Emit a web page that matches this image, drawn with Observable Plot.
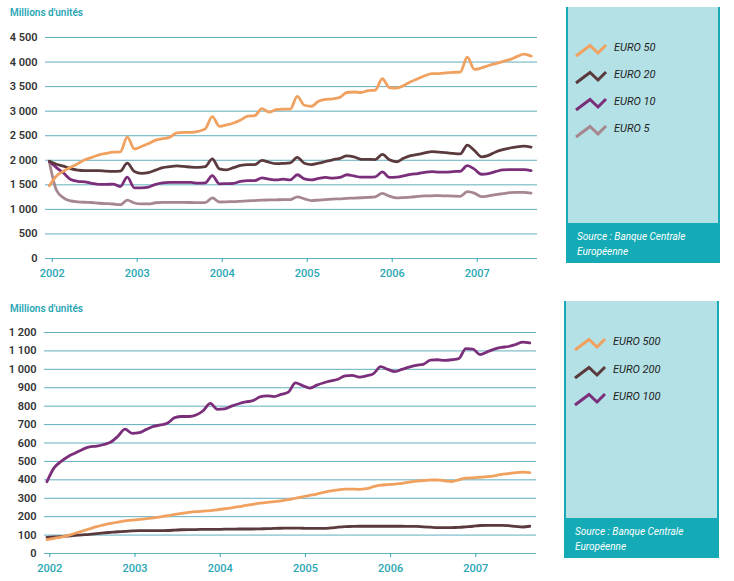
<!DOCTYPE html>
<html>
<head>
<meta charset="utf-8">
<script src="https://cdn.jsdelivr.net/npm/d3@7"></script>
<script src="https://cdn.jsdelivr.net/npm/@observablehq/plot@0.6"></script>
<style>
  html, body { margin: 0; padding: 0; background: #ffffff; }
  #page { position: relative; width: 734px; height: 581px; overflow: hidden; font-family: Roboto, "Open Sans", sans-serif; }
  .chart { position: absolute; left: 0; }
  .unit { position: absolute; font-size: 10px; font-weight: 600; color: #2aa6b4; line-height: 12px; white-space: nowrap; }
  .legend { position: absolute; box-sizing: border-box; background: #b4e1e6; border-left: 2px solid #17a9b5; border-right: 2px solid #17a9b5; }
  .legend .item { position: absolute; font-style: italic; font-size: 11px; color: #1e1e1e; line-height: 14px; white-space: nowrap; }
  .legend svg.icon { position: absolute; overflow: visible; }
  .legend .foot { position: absolute; left: -2px; right: -2px; bottom: 0; height: 40px; background: #14abb7; color: #ffffff; font-style: italic; font-size: 10px; line-height: 15.5px; padding: 5.5px 0 0 11px; box-sizing: border-box; }
</style>
</head>
<body>
<div id="page"></div>
<script>
// ---------- data ----------
const years = [2002, 2003, 2004, 2005, 2006, 2007];
const yTicksTop = [0, 500, 1000, 1500, 2000, 2500, 3000, 3500, 4000, 4500];
const yTicksBottom = [0, 100, 200, 300, 400, 500, 600, 700, 800, 900, 1000, 1100, 1200];
const unitLabel = "Millions d'unités";
const sourceLines = ["Source : Banque Centrale", "Européenne"];

// monthly values, January 2002 to September 2007
const euro50 = [
  1480,1680,1780,1860,1930,2010,2060,2110,2140,2165,2170,2470,
  2230,2280,2340,2410,2440,2470,2560,2570,2570,2590,2640,2890,
  2690,2720,2760,2820,2900,2910,3050,2980,3030,3040,3040,3300,
  3120,3100,3200,3240,3250,3280,3380,3390,3380,3420,3430,3660,
  3480,3470,3520,3600,3660,3720,3765,3765,3780,3790,3795,4100,
  3850,3880,3930,3970,4010,4050,4110,4160,4120];
const euro20 = [
  1980,1920,1880,1830,1800,1790,1790,1790,1780,1775,1780,1940,
  1770,1735,1750,1800,1850,1870,1885,1875,1860,1855,1870,2030,
  1825,1805,1850,1895,1913,1910,2000,1960,1930,1935,1945,2060,
  1940,1913,1940,1975,2010,2040,2090,2070,2020,2018,2015,2120,
  2010,1970,2040,2095,2120,2150,2178,2165,2155,2140,2130,2310,
  2200,2070,2100,2170,2215,2250,2275,2287,2270];
const euro10 = [
  1980,1850,1740,1610,1572,1560,1530,1508,1510,1515,1465,1655,
  1440,1440,1455,1510,1540,1550,1552,1552,1548,1535,1540,1688,
  1520,1525,1531,1570,1586,1586,1640,1615,1600,1615,1600,1705,
  1620,1600,1630,1650,1635,1650,1705,1680,1655,1655,1660,1765,
  1650,1655,1680,1715,1730,1755,1770,1760,1760,1770,1776,1890,
  1820,1715,1730,1770,1805,1810,1811,1811,1790];
const euro5 = [
  1960,1390,1235,1172,1155,1145,1140,1125,1118,1110,1095,1190,
  1130,1112,1112,1135,1143,1143,1143,1142,1140,1138,1137,1233,
  1150,1155,1158,1165,1172,1180,1188,1192,1195,1198,1200,1255,
  1215,1180,1190,1200,1210,1215,1225,1230,1237,1245,1255,1325,
  1270,1233,1240,1250,1265,1274,1277,1280,1275,1270,1266,1360,
  1330,1260,1275,1300,1320,1340,1348,1345,1330];

const euro500 = [
  75,82,89,98,110,122,134,146,156,164,171,177,
  181,185,189,193,199,205,212,218,223,227,230,233,
  237,243,248,254,261,267,273,278,282,286,292,300,
  307,315,323,332,340,346,350,350,348,352,363,371,
  374,377,381,388,393,396,399,399,395,391,400,409,
  411,414,417,422,430,434,439,442,439];
const euro200 = [
  88,90,92,95,98,101,104,108,112,115,118,120,
  123,124,124,124,124,125,127,129,130,130,131,131,
  131,132,132,133,133,133,134,135,136,137,138,138,
  137,136,136,136,139,143,146,147,148,148,148,148,
  148,148,148,147,147,145,143,141,140,141,142,145,
  148,152,153,153,153,151,147,144,148];
const euro100 = [
  390,465,500,527,546,565,579,583,592,605,637,675,
  652,656,674,690,698,708,738,744,744,752,775,815,
  783,785,800,813,823,830,850,856,852,864,876,926,
  912,898,914,927,937,946,965,967,958,965,977,1015,
  1000,988,1000,1012,1022,1027,1050,1052,1049,1052,1058,1112,
  1110,1080,1095,1110,1119,1124,1135,1148,1143];

const namesTop = ["EURO 50", "EURO 20", "EURO 10", "EURO 5"];
const seriesTop = [euro50, euro20, euro10, euro5];
const colorsTop = ["#f0a15f", "#5b3a3d", "#7b2e7a", "#a6878f"];

const namesBottom = ["EURO 500", "EURO 200", "EURO 100"];
const seriesBottom = [euro500, euro200, euro100];
const colorsBottom = ["#f0a15f", "#5b3a3d", "#7b2e7a"];

// ---------- helpers ----------
const teal = "#2aa6b4";
const gridColor = "#62afbe";
const fmt = d => d3.format(",")(d).replace(/,/g, " ");
// month index -> decimal year (monthly reading, plotted slightly before month start)
const tOf = i => 2002 + (i - 0.4) / 12;

function rowsFor(names, series) {
  const rows = [];
  // draw order reversed so the first legend entry is drawn on top
  for (let k = names.length - 1; k >= 0; k--) {
    series[k].forEach((v, i) => rows.push({s: names[k], t: tOf(i), v}));
  }
  return rows;
}

function makeChart({names, series, colors, yTicks, xDomain, marginLeft, marginRight, marginTop, marginBottom, curve}) {
  return Plot.plot({
    width: 545,
    height: 285,
    marginLeft, marginRight, marginTop, marginBottom,
    style: {fontFamily: "Roboto, 'Open Sans', sans-serif", background: "transparent", overflow: "visible"},
    x: {type: "linear", domain: xDomain},
    y: {domain: [0, yTicks[yTicks.length - 1]]},
    color: {domain: names, range: colors},
    marks: [
      Plot.gridY(yTicks, {stroke: gridColor, strokeOpacity: 1, strokeWidth: 1}),
      Plot.axisY(yTicks, {tickSize: 0, tickPadding: 8, tickFormat: fmt, fontSize: 11, fontWeight: 600, fill: "#333333", label: null}),
      Plot.axisX(years, {tickSize: 4, tickPadding: 7, tickFormat: d => String(d), color: teal, fontSize: 11, fontWeight: 500, label: null}),
      Plot.line(rowsFor(names, series), {x: "t", y: "v", z: "s", stroke: "s", strokeWidth: 2.8, curve, strokeLinejoin: "round", strokeLinecap: "round"})
    ]
  });
}

function makeLegend({left, top, width, height, names, colors, itemLeft, iconLeft, firstY, step}) {
  const box = document.createElement("div");
  box.className = "legend";
  Object.assign(box.style, {left: left + "px", top: top + "px", width: width + "px", height: height + "px"});
  names.forEach((name, k) => {
    const cy = firstY + step * k;
    const svg = d3.create("svg").attr("class", "icon").attr("width", 32).attr("height", 14)
      .style("left", iconLeft + "px").style("top", (cy - 4) + "px");
    svg.append("polyline").attr("points", "1,12 15,1.5 23,9 31,1")
      .attr("fill", "none").attr("stroke", colors[k]).attr("stroke-width", 3)
      .attr("stroke-linejoin", "miter").attr("stroke-linecap", "butt");
    box.appendChild(svg.node());
    const t = document.createElement("div");
    t.className = "item";
    t.textContent = name;
    Object.assign(t.style, {left: itemLeft + "px", top: (cy - 7) + "px"});
    box.appendChild(t);
  });
  const foot = document.createElement("div");
  foot.className = "foot";
  foot.innerHTML = sourceLines.join("<br>");
  box.appendChild(foot);
  return box;
}

const page = document.getElementById("page");

// top panel
const c1 = document.createElement("div");
c1.className = "chart"; c1.style.top = "0px";
c1.appendChild(makeChart({
  names: namesTop, series: seriesTop, colors: colorsTop, yTicks: yTicksTop,
  xDomain: [2001.921, 2007.709], marginLeft: 45, marginRight: 8, marginTop: 37, marginBottom: 27, curve: "monotone-x"
}));
page.appendChild(c1);
const u1 = document.createElement("div");
u1.className = "unit"; u1.textContent = unitLabel;
Object.assign(u1.style, {left: "10px", top: "7px"});
page.appendChild(u1);
page.appendChild(makeLegend({left: 566, top: 7, width: 154, height: 256, names: namesTop, colors: colorsTop,
  itemLeft: 46, iconLeft: 7, firstY: 41, step: 27}));

// bottom panel
const c2 = document.createElement("div");
c2.className = "chart"; c2.style.top = "290px";
c2.appendChild(makeChart({
  names: namesBottom, series: seriesBottom, colors: colorsBottom, yTicks: yTicksBottom,
  xDomain: [2001.938, 2007.712], marginLeft: 44, marginRight: 9, marginTop: 42, marginBottom: 22, curve: "monotone-x"
}));
page.appendChild(c2);
const u2 = document.createElement("div");
u2.className = "unit"; u2.textContent = unitLabel;
Object.assign(u2.style, {left: "10px", top: "303px"});
page.appendChild(u2);
page.appendChild(makeLegend({left: 564, top: 301, width: 155, height: 257, names: namesBottom, colors: colorsBottom,
  itemLeft: 47, iconLeft: 8, firstY: 41, step: 27.5}));
</script>
</body>
</html>
